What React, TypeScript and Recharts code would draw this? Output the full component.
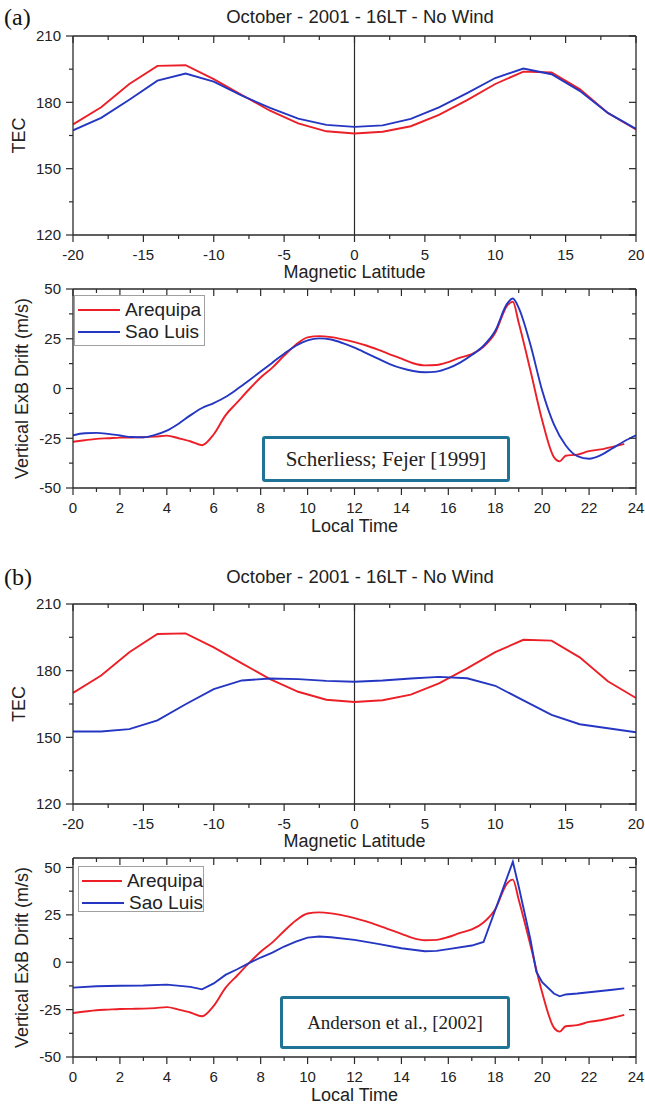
import React from "react"
import { LineChart, Line, XAxis, YAxis, ReferenceLine, Legend } from "recharts"

// magnetic latitude grid (deg) for the TEC panels
const latitude = [-20, -18, -16, -14, -12, -10, -8, -6, -4, -2, 0, 2, 4, 6, 8, 10, 12, 14, 16, 18, 20]
const tecArequipa = [170, 177.8, 188.3, 196.5, 196.8, 190.5, 183.3, 176.2, 170.5, 166.9, 165.9, 166.7, 169.2, 174.3, 181, 188.3, 193.9, 193.5, 186, 175.2, 167.7]
const tecSaoLuisA = [167.3, 173, 181.2, 189.8, 193, 189.4, 183, 177.5, 172.6, 169.8, 168.9, 169.6, 172.5, 177.7, 184.2, 191, 195.3, 192.7, 185.2, 175.2, 168]
const tecSaoLuisB = [152.6, 152.6, 153.7, 157.6, 164.9, 171.7, 175.6, 176.5, 176.2, 175.4, 175, 175.6, 176.5, 177.2, 176.6, 173.2, 166.6, 160.1, 155.9, 154.1, 152.3]

// vertical drift, Arequipa (same in both panels)
const hoursArequipa = [0, 0.5, 1, 1.5, 2, 2.5, 3, 3.5, 4, 4.5, 5, 5.5, 6, 6.5, 7, 7.5, 8, 8.5, 9, 9.5, 10, 10.5, 11, 11.5, 12, 12.5, 13, 13.5, 14, 14.5, 15, 15.5, 16, 16.5, 17, 17.5, 18, 18.5, 18.75, 19, 19.5, 20, 20.5, 20.75, 21, 21.5, 22, 22.5, 23, 23.5]
const driftArequipa = [-26.8, -26, -25.3, -25, -24.7, -24.6, -24.5, -24.2, -23.7, -25, -26.5, -28.5, -23, -13.5, -7, -0.5, 5.5, 10.5, 16.5, 22, 25.7, 26.3, 25.8, 24.7, 23.3, 21.6, 19.5, 17.2, 15, 12.7, 11.6, 11.8, 13.3, 15.5, 17.3, 21, 28, 41.5, 43.6, 33, 9, -16, -34.5, -36.6, -33.8, -33.2, -31.5, -30.6, -29.3, -27.8]

// Sao Luis, Scherliess & Fejer model
const hoursSaoLuisA = [0, 0.5, 1, 1.5, 2, 2.5, 3, 3.5, 4, 4.5, 5, 5.5, 6, 6.5, 7, 7.5, 8, 8.5, 9, 9.5, 10, 10.5, 11, 11.5, 12, 12.5, 13, 13.5, 14, 14.5, 15, 15.5, 16, 16.5, 17, 17.5, 18, 18.5, 18.75, 19, 19.5, 20, 20.5, 21, 21.5, 22, 22.5, 23, 23.5, 24]
const driftSaoLuisA = [-23.5, -22.5, -22.3, -22.8, -23.6, -24.4, -24.5, -23.3, -21.2, -17.7, -13.5, -9.8, -7.3, -4.3, -0.3, 4, 8.5, 13, 17.5, 21.5, 24.2, 25.2, 24.6, 22.8, 20.5, 17.8, 15, 12.3, 10.2, 8.8, 8.2, 8.5, 10.2, 13, 16.8, 21.5, 29, 42.5, 45.2, 40.5, 22, -1, -18, -28.5, -34, -35.3, -33.5, -30, -26.5, -23.5]

// Sao Luis, Anderson et al. model
const hoursSaoLuisB = [0, 1, 2, 3, 4, 5, 5.5, 6, 6.5, 7, 7.5, 8, 8.5, 9, 9.5, 10, 10.5, 11, 12, 13, 14, 15, 15.5, 16, 17, 17.5, 18.75, 19, 19.5, 19.75, 20, 20.5, 20.75, 21, 21.5, 22, 22.5, 23, 23.5]
const driftSaoLuisB = [-13.4, -12.7, -12.4, -12.3, -11.8, -13, -14.3, -11.2, -6.7, -3.7, -0.5, 2.5, 5.1, 8.3, 10.9, 13, 13.6, 13.2, 11.8, 9.7, 7.4, 5.8, 6, 6.9, 8.8, 10.7, 53, 40, 12, -5, -10.5, -16.5, -18, -17, -16.5, -15.8, -15.2, -14.5, -13.8]

// axis ticks
const latTicks = [-20, -17.5, -15, -12.5, -10, -7.5, -5, -2.5, 0, 2.5, 5, 7.5, 10, 12.5, 15, 17.5, 20]
const latLabels = [-20, -15, -10, -5, 0, 5, 10, 15, 20]
const tecTicks = [120, 135, 150, 165, 180, 195, 210]
const tecLabels = [120, 150, 180, 210]
const hourTicks = [0, 1, 2, 3, 4, 5, 6, 7, 8, 9, 10, 11, 12, 13, 14, 15, 16, 17, 18, 19, 20, 21, 22, 23, 24]
const hourLabels = [0, 2, 4, 6, 8, 10, 12, 14, 16, 18, 20, 22, 24]
const driftTicks = [-50, -37.5, -25, -12.5, 0, 12.5, 25, 37.5, 50]
const driftLabels = [-50, -25, 0, 25, 50]

const RED = "#ec1f27"
const BLUE = "#2436c2"
const FRAME = "#2a2a2a"
const TEAL = "#1e7397"
const W = 645

const rows = (xs: number[], ys: number[]) => xs.map((x, i) => ({ x, y: ys[i] }))

const makeTick = (side: string, majors: number[], showLabel: boolean) => (props: any) => {
  const { x, y, payload } = props
  const v = payload.value
  const major = majors.includes(v)
  const len = major ? 7 : 4
  let line
  let label = null
  if (side === "bottom") {
    line = <line x1={x} y1={y} x2={x} y2={y + len} stroke={FRAME} strokeWidth={1.2} />
    if (showLabel && major)
      label = <text x={x} y={y + 14} dy="0.71em" textAnchor="middle" fontSize={15} fill="#222">{v}</text>
  } else if (side === "top") {
    line = <line x1={x} y1={y} x2={x} y2={y + len} stroke={FRAME} strokeWidth={1.2} />
  } else if (side === "left") {
    line = <line x1={x - len} y1={y} x2={x} y2={y} stroke={FRAME} strokeWidth={1.2} />
    if (showLabel && major)
      label = <text x={x - 12} y={y} dy="0.355em" textAnchor="end" fontSize={15} fill="#222">{v}</text>
  } else {
    line = <line x1={x - len} y1={y} x2={x} y2={y} stroke={FRAME} strokeWidth={1.2} />
  }
  return (
    <g>
      {line}
      {label}
    </g>
  )
}

const renderLegend = (props: any) => {
  const { payload } = props
  return (
    <div style={{ boxSizing: "border-box", width: "100%", height: "100%", border: "1px solid #a0a0a0", background: "#fff", padding: "3px 0 0 3px" }}>
      {(payload || []).map((entry: any) => (
        <div key={entry.value} style={{ display: "flex", alignItems: "center", height: 22 }}>
          <span style={{ display: "inline-block", width: 42, height: 2, background: entry.color, marginRight: 5 }} />
          <span style={{ fontSize: 19, color: "#222", lineHeight: "22px" }}>{entry.value}</span>
        </div>
      ))}
    </div>
  )
}

const axisLine = { stroke: FRAME, strokeWidth: 1.3 }

function TecPanel({ top, height, plotTop, plotBottom, saoLuis }: any) {
  return (
    <div style={{ position: "absolute", left: 0, top, width: W, height }}>
      <LineChart width={W} height={height} margin={{ top: plotTop - top - 1, right: 8, bottom: 0, left: 0 }}>
        <XAxis xAxisId="b" type="number" dataKey="x" domain={[-20, 20]} allowDataOverflow ticks={latTicks} interval={0}
          tickSize={0} tickMargin={0} tickLine={false} axisLine={axisLine} height={top + height - plotBottom}
          tick={makeTick("bottom", latLabels, true)}
          label={{ value: "Magnetic Latitude", position: "insideBottom", offset: top + height - plotBottom - 43, style: { fontSize: 18, fill: "#222" } }} />
        <XAxis xAxisId="t" orientation="top" type="number" dataKey="x" domain={[-20, 20]} allowDataOverflow ticks={latTicks} interval={0}
          tickSize={0} tickMargin={0} tickLine={false} axisLine={axisLine} height={1} tick={makeTick("top", latLabels, false)} />
        <YAxis yAxisId="l" type="number" domain={[120, 210]} allowDataOverflow ticks={tecTicks} interval={0}
          tickSize={0} tickMargin={0} tickLine={false} axisLine={axisLine} width={73}
          tick={makeTick("left", tecLabels, true)}
          label={{ value: "TEC", angle: -90, position: "insideLeft", offset: 19, style: { fontSize: 18, fill: "#222", textAnchor: "middle" } }} />
        <YAxis yAxisId="r" orientation="right" type="number" domain={[120, 210]} allowDataOverflow ticks={tecTicks} interval={0}
          tickSize={0} tickMargin={0} tickLine={false} axisLine={axisLine} width={1} tick={makeTick("right", tecLabels, false)} />
        <ReferenceLine xAxisId="b" yAxisId="l" x={0} stroke={FRAME} strokeWidth={1.2} />
        <Line xAxisId="b" yAxisId="l" data={rows(latitude, tecArequipa)} dataKey="y" name="Arequipa" type="linear"
          stroke={RED} strokeWidth={1.9} dot={false} isAnimationActive={false} />
        <Line xAxisId="b" yAxisId="l" data={rows(latitude, saoLuis)} dataKey="y" name="Sao Luis" type="linear"
          stroke={BLUE} strokeWidth={1.9} dot={false} isAnimationActive={false} />
      </LineChart>
    </div>
  )
}

function DriftPanel({ top, height, plotTop, plotBottom, yMax, blueHours, blueDrift, blueType, legendBox, note, noteBox, noteSize }: any) {
  return (
    <div style={{ position: "absolute", left: 0, top, width: W, height }}>
      <LineChart width={W} height={height} margin={{ top: plotTop - top - 1, right: 8, bottom: 0, left: 0 }}>
        <XAxis xAxisId="b" type="number" dataKey="x" domain={[0, 24]} allowDataOverflow ticks={hourTicks} interval={0}
          tickSize={0} tickMargin={0} tickLine={false} axisLine={axisLine} height={top + height - plotBottom}
          tick={makeTick("bottom", hourLabels, true)}
          label={{ value: "Local Time", position: "insideBottom", offset: top + height - plotBottom - 44, style: { fontSize: 18, fill: "#222" } }} />
        <XAxis xAxisId="t" orientation="top" type="number" dataKey="x" domain={[0, 24]} allowDataOverflow ticks={hourTicks} interval={0}
          tickSize={0} tickMargin={0} tickLine={false} axisLine={axisLine} height={1} tick={makeTick("top", hourLabels, false)} />
        <YAxis yAxisId="l" type="number" domain={[-50, yMax]} allowDataOverflow ticks={driftTicks} interval={0}
          tickSize={0} tickMargin={0} tickLine={false} axisLine={axisLine} width={73}
          tick={makeTick("left", driftLabels, true)}
          label={{ value: "Vertical ExB Drift (m/s)", angle: -90, position: "insideLeft", offset: 22, style: { fontSize: 18, fill: "#222", textAnchor: "middle" } }} />
        <YAxis yAxisId="r" orientation="right" type="number" domain={[-50, yMax]} allowDataOverflow ticks={driftTicks} interval={0}
          tickSize={0} tickMargin={0} tickLine={false} axisLine={axisLine} width={1} tick={makeTick("right", driftLabels, false)} />
        <Legend layout="vertical" align="center" verticalAlign="middle" content={renderLegend}
          wrapperStyle={{ left: legendBox.left, top: legendBox.top, width: legendBox.width, height: legendBox.height, margin: 0 }} />
        <Line xAxisId="b" yAxisId="l" data={rows(hoursArequipa, driftArequipa)} dataKey="y" name="Arequipa" type="monotone"
          stroke={RED} strokeWidth={1.9} dot={false} isAnimationActive={false} />
        <Line xAxisId="b" yAxisId="l" data={rows(blueHours, blueDrift)} dataKey="y" name="Sao Luis" type={blueType}
          stroke={BLUE} strokeWidth={1.9} dot={false} isAnimationActive={false} />
      </LineChart>
      <div style={{
        position: "absolute", left: noteBox.left, top: noteBox.top, width: noteBox.width, height: noteBox.height,
        boxSizing: "border-box", border: `3px solid ${TEAL}`, borderRadius: 3, background: "#fff",
        display: "flex", alignItems: "center", justifyContent: "center",
        fontFamily: '"Liberation Serif", "Times New Roman", serif', fontSize: noteSize, color: "#222",
      }}>
        {note}
      </div>
    </div>
  )
}

const Title = ({ top, tag }: any) => (
  <>
    <div style={{ position: "absolute", left: 4, top: top - 15, fontFamily: '"Liberation Serif", serif', fontSize: 24, color: "#111", lineHeight: "30px" }}>{tag}</div>
    <div style={{ position: "absolute", left: 160, top: top - 11, width: 400, textAlign: "center", fontSize: 18.5, color: "#222", lineHeight: "22px" }}>
      October - 2001 - 16LT - No Wind
    </div>
  </>
)

export default function App() {
  return (
    <div style={{ position: "absolute", left: 0, top: 0, width: W, height: 1106, background: "#fff", fontFamily: '"Liberation Sans", Arial, sans-serif', overflow: "hidden" }}>
      <TecPanel top={0} height={285} plotTop={36} plotBottom={235} saoLuis={tecSaoLuisA} />
      <DriftPanel top={280} height={260} plotTop={289} plotBottom={488} yMax={50}
        blueHours={hoursSaoLuisA} blueDrift={driftSaoLuisA} blueType="monotone"
        legendBox={{ left: 74, top: 15, width: 131, height: 51 }}
        note="Scherliess; Fejer [1999]" noteBox={{ left: 262, top: 156, width: 248, height: 46 }} noteSize={21} />
      <TecPanel top={570} height={285} plotTop={604} plotBottom={804} saoLuis={tecSaoLuisB} />
      <DriftPanel top={850} height={256} plotTop={858} plotBottom={1057} yMax={55}
        blueHours={hoursSaoLuisB} blueDrift={driftSaoLuisB} blueType="linear"
        legendBox={{ left: 78, top: 16, width: 126, height: 46 }}
        note="Anderson et al., [2002]" noteBox={{ left: 280, top: 146, width: 230, height: 53 }} noteSize={19} />
      <Title top={17} tag="(a)" />
      <Title top={577} tag="(b)" />
    </div>
  )
}
